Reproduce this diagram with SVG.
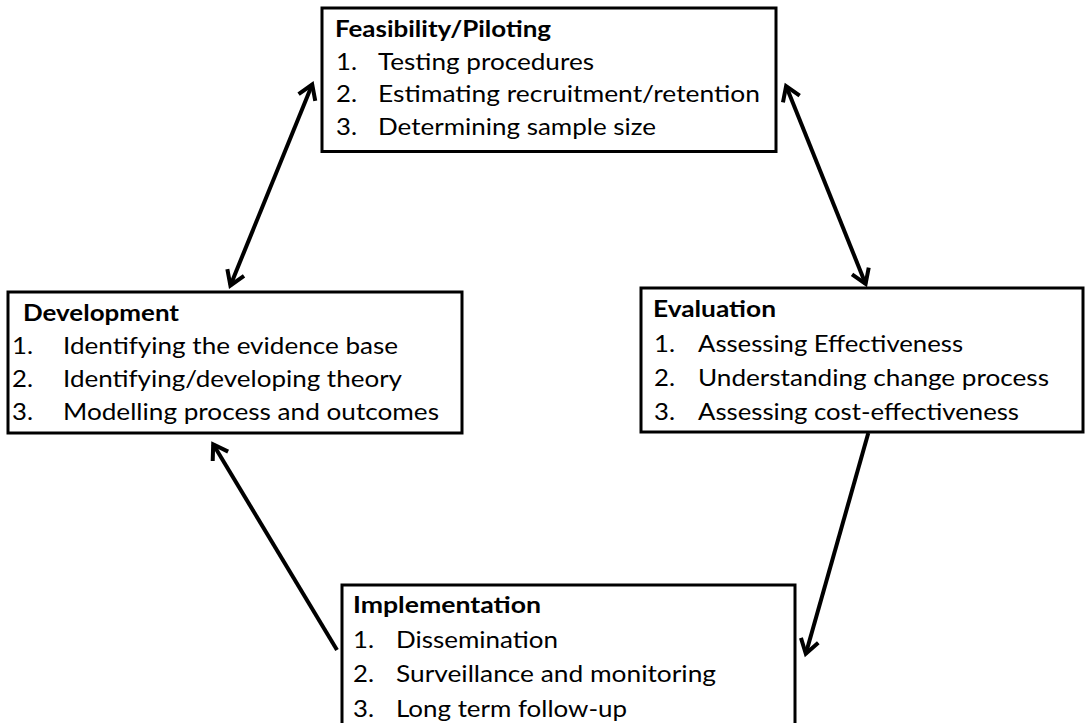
<svg xmlns="http://www.w3.org/2000/svg" width="1086" height="723" viewBox="0 0 1086 723">
  <defs>
    <style>
      .box { fill: #ffffff; stroke: #000000; stroke-width: 3; }
      text { font-family: Lato, "Open Sans", "Liberation Sans", sans-serif; font-size: 22.5px; fill: #000000; }
      .hd { font-weight: bold; }
      .conn { stroke: #000000; stroke-width: 4; fill: none; }
    </style>
    <!-- open chevron arrowhead, tip at the path end -->
    <marker id="head" markerUnits="userSpaceOnUse" viewBox="-20 -20 40 40" markerWidth="40" markerHeight="40" refX="0" refY="0" orient="auto-start-reverse" overflow="visible">
      <path d="M-14,-9 L0,0 L-14,9" fill="none" stroke="#000000" stroke-width="4" stroke-linejoin="miter"/>
    </marker>
  </defs>

  <rect x="0" y="0" width="1086" height="723" fill="#ffffff"/>

  <!-- Feasibility/Piloting -->
  <g id="feasibility">
    <rect class="box" x="322" y="8" width="454" height="143.5"/>
    <text class="hd" x="335" y="37" textLength="216" lengthAdjust="spacingAndGlyphs">Feasibility/Piloting</text>
    <text x="336" y="69.5" textLength="21" lengthAdjust="spacingAndGlyphs">1.</text>
    <text x="378" y="69.5" textLength="216" lengthAdjust="spacingAndGlyphs">Testing procedures</text>
    <text x="336" y="102" textLength="21" lengthAdjust="spacingAndGlyphs">2.</text>
    <text x="378" y="102" textLength="382" lengthAdjust="spacingAndGlyphs">Estimating recruitment/retention</text>
    <text x="336" y="135" textLength="21" lengthAdjust="spacingAndGlyphs">3.</text>
    <text x="378" y="135" textLength="278" lengthAdjust="spacingAndGlyphs">Determining sample size</text>
  </g>

  <!-- Development -->
  <g id="development">
    <rect class="box" x="8" y="292" width="454" height="141"/>
    <text class="hd" x="23" y="321" textLength="156" lengthAdjust="spacingAndGlyphs">Development</text>
    <text x="12" y="354" textLength="21" lengthAdjust="spacingAndGlyphs">1.</text>
    <text x="63" y="354" textLength="335" lengthAdjust="spacingAndGlyphs">Identifying the evidence base</text>
    <text x="12" y="387" textLength="21" lengthAdjust="spacingAndGlyphs">2.</text>
    <text x="63" y="387" textLength="339" lengthAdjust="spacingAndGlyphs">Identifying/developing theory</text>
    <text x="12" y="420" textLength="21" lengthAdjust="spacingAndGlyphs">3.</text>
    <text x="63" y="420" textLength="376" lengthAdjust="spacingAndGlyphs">Modelling process and outcomes</text>
  </g>

  <!-- Evaluation -->
  <g id="evaluation">
    <rect class="box" x="641" y="288" width="442" height="144"/>
    <text class="hd" x="653" y="317" textLength="123" lengthAdjust="spacingAndGlyphs">Evaluation</text>
    <text x="654" y="351.5" textLength="21" lengthAdjust="spacingAndGlyphs">1.</text>
    <text x="698" y="351.5" textLength="265" lengthAdjust="spacingAndGlyphs">Assessing Effectiveness</text>
    <text x="654" y="386" textLength="21" lengthAdjust="spacingAndGlyphs">2.</text>
    <text x="698" y="386" textLength="351" lengthAdjust="spacingAndGlyphs">Understanding change process</text>
    <text x="654" y="419.5" textLength="21" lengthAdjust="spacingAndGlyphs">3.</text>
    <text x="698" y="419.5" textLength="321" lengthAdjust="spacingAndGlyphs">Assessing cost-effectiveness</text>
  </g>

  <!-- Implementation -->
  <g id="implementation">
    <rect class="box" x="342" y="585" width="453" height="145"/>
    <text class="hd" x="353" y="613" textLength="188" lengthAdjust="spacingAndGlyphs">Implementation</text>
    <text x="353" y="648" textLength="21" lengthAdjust="spacingAndGlyphs">1.</text>
    <text x="396" y="648" textLength="162" lengthAdjust="spacingAndGlyphs">Dissemination</text>
    <text x="353" y="682" textLength="21" lengthAdjust="spacingAndGlyphs">2.</text>
    <text x="396" y="682" textLength="320" lengthAdjust="spacingAndGlyphs">Surveillance and monitoring</text>
    <text x="353" y="716.5" textLength="21" lengthAdjust="spacingAndGlyphs">3.</text>
    <text x="396" y="716.5" textLength="231" lengthAdjust="spacingAndGlyphs">Long term follow-up</text>
  </g>

  <!-- connectors -->
  <g id="connectors">
    <line class="conn" x1="312.2" y1="84.5" x2="230.4" y2="285.5" marker-start="url(#head)" marker-end="url(#head)"/>
    <line class="conn" x1="786.1" y1="86.1" x2="865.6" y2="283.9" marker-start="url(#head)" marker-end="url(#head)"/>
    <line class="conn" x1="868.3" y1="433" x2="805.8" y2="653.8" marker-end="url(#head)"/>
    <line class="conn" x1="337" y1="650" x2="213.2" y2="444.3" marker-end="url(#head)"/>
  </g>
</svg>
